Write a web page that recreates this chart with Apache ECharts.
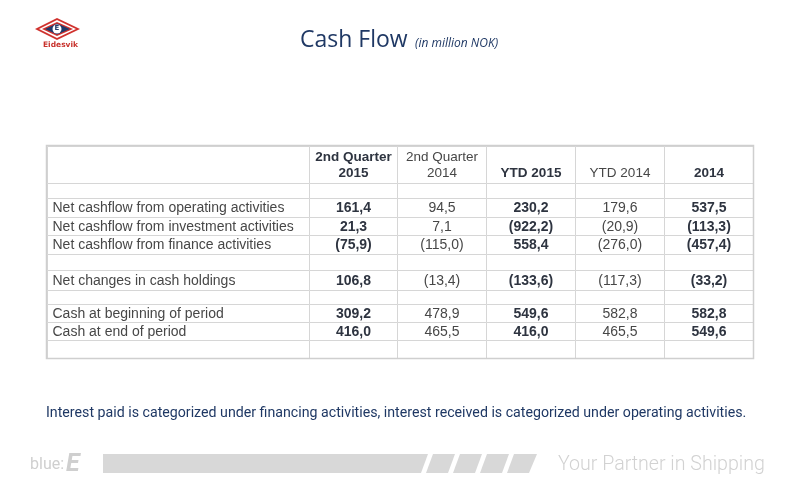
<!DOCTYPE html>
<html>
<head>
<meta charset="utf-8">
<script src="https://cdn.jsdelivr.net/npm/echarts@6/dist/echarts.min.js"></script>
<style>
  html, body { margin: 0; padding: 0; background: #fff; }
  #main { width: 800px; height: 500px; }
</style>
</head>
<body>
<div id="main"></div>
<script>
// table data (in million NOK), negatives shown in brackets
var rowLabels = [
    'Net cashflow from operating activities',
    'Net cashflow from investment activities',
    'Net cashflow from finance activities',
    'Net changes in cash holdings',
    'Cash at beginning of period',
    'Cash at end of period'
];
var colHeaders = [['2nd Quarter', '2015'], ['2nd Quarter', '2014'], ['YTD 2015'], ['YTD 2014'], ['2014']];
var boldCols = [true, false, true, false, true];
var q2_2015 = [161.4, 21.3, -75.9, 106.8, 309.2, 416.0];
var q2_2014 = [94.5, 7.1, -115.0, -13.4, 478.9, 465.5];
var ytd2015 = [230.2, -922.2, 558.4, -133.6, 549.6, 416.0];
var ytd2014 = [179.6, -20.9, -276.0, -117.3, 582.8, 465.5];
var fy2014 = [537.5, -113.3, -457.4, -33.2, 582.8, 549.6];
var columns = [q2_2015, q2_2014, ytd2015, ytd2014, fy2014];

// layout of the table grid (axis units = px on the slide)
var colEdges = [47, 309, 397, 486, 575, 664, 753];
var rowEdges = [146, 183, 198, 217, 235, 254, 270, 290, 304, 322, 340, 358];
var dataRowIndex = [2, 3, 4, 6, 8, 9]; // which table row each data line sits in

function fmt(v) {
    var s = Math.abs(v).toFixed(1).replace('.', ',');
    return v < 0 ? '(' + s + ')' : s;
}

// build one entry per cell
var cells = [];
for (var r = 0; r < rowEdges.length - 1; r++) {
    for (var c = 0; c < colEdges.length - 1; c++) {
        var txt = '', bold = false;
        if (r === 0 && c > 0) {
            txt = colHeaders[c - 1].join('\n');
            bold = boldCols[c - 1];
        } else {
            var k = dataRowIndex.indexOf(r);
            if (k >= 0) {
                if (c === 0) txt = rowLabels[k];
                else { txt = fmt(columns[c - 1][k]); bold = boldCols[c - 1]; }
            }
        }
        cells.push({ value: [c, r], txt: txt, bold: bold });
    }
}

var chart = echarts.init(document.getElementById('main'));

function renderCell(params, api) {
    var cell = cells[params.dataIndex];
    var c = cell.value[0], r = cell.value[1];
    var p0 = api.coord([colEdges[c], rowEdges[r]]);
    var p1 = api.coord([colEdges[c + 1], rowEdges[r + 1]]);
    var x0 = Math.round(p0[0]) + 0.5, y0 = Math.round(p0[1]) + 0.5;
    var x1 = Math.round(p1[0]) + 0.5, y1 = Math.round(p1[1]) + 0.5;
    var children = [{
        type: 'rect',
        shape: { x: x0, y: y0, width: x1 - x0, height: y1 - y0 },
        style: { fill: '#fff', stroke: '#d6d6d6', lineWidth: 1 }
    }];
    if (cell.txt) {
        var isLabel = c === 0;
        var isHead = r === 0;
        children.push({
            type: 'text',
            style: {
                text: cell.txt,
                x: isLabel ? x0 + 5 : (x0 + x1) / 2,
                y: isHead ? y1 - 2 : (y0 + y1) / 2 + 0.5,
                align: isLabel ? 'left' : 'center',
                verticalAlign: isHead ? 'bottom' : 'middle',
                fontFamily: 'Liberation Sans, Arial, sans-serif',
                fontSize: isHead ? 13.5 : 14,
                fontWeight: cell.bold ? 'bold' : 'normal',
                lineHeight: 16,
                fill: cell.bold ? '#2e3440' : '#474747'
            }
        });
    }
    return { type: 'group', children: children };
}

var option = {
    backgroundColor: '#fff',
    animation: false,
    grid: { left: 47, top: 146, width: 706, height: 212 },
    xAxis: { type: 'value', min: 47, max: 753, show: false },
    yAxis: { type: 'value', min: 146, max: 358, inverse: true, show: false },
    series: [{
        type: 'custom',
        renderItem: renderCell,
        data: cells,
        silent: true
    }],
    graphic: [
        // outer border of the table
        { type: 'rect', shape: { x: 46.5, y: 145.5, width: 707, height: 213 },
          style: { fill: 'none', stroke: '#cfcfcf', lineWidth: 1.5 }, z: 10 },
        // title
        { type: 'text', left: 300, top: 29,
          style: { text: 'Cash Flow', fontFamily: 'Open Sans', fontSize: 23, fill: '#1f3864' } },
        { type: 'text', left: 415, top: 38,
          style: { text: '(in million NOK)', fontFamily: 'Open Sans', fontStyle: 'italic', fontSize: 12, fill: '#1f3864' } },
        // logo
        { type: 'polygon', shape: { points: [[35, 29], [57, 18], [80, 29], [57, 40]] },
          style: { fill: '#d0312d' } },
        { type: 'polygon', shape: { points: [[39, 29], [57, 20], [76, 29], [57, 38]] },
          style: { fill: '#fff' } },
        { type: 'polygon', shape: { points: [[42, 29], [57, 22], [73, 29], [57, 36]] },
          style: { fill: '#d0312d' } },
        { type: 'polygon', shape: { points: [[45, 29], [57, 23.5], [70, 29], [57, 34.5]] },
          style: { fill: '#1f3a6b' } },
        { type: 'circle', shape: { cx: 57, cy: 29, r: 4.5 }, style: { fill: '#fff' } },
        { type: 'text', left: 54.5, top: 25,
          style: { text: 'E', fontFamily: 'DejaVu Sans', fontWeight: 'bold', fontSize: 7, fill: '#1f3a6b' } },
        { type: 'text', left: 43, top: 41,
          style: { text: 'Eidesvik', fontFamily: 'DejaVu Sans', fontWeight: 'bold', fontSize: 7.5, fill: '#c8322c' } },
        // footnote
        { type: 'text', left: 46, top: 406,
          style: { text: 'Interest paid is categorized under financing activities, interest received is categorized under operating activities.',
                   fontFamily: 'Roboto', fontSize: 14.2, fill: '#1f3864' } },
        // footer
        { type: 'text', left: 30, top: 457,
          style: { text: 'blue:', fontFamily: 'Roboto', fontSize: 16, fill: '#cfcfcf' } },
        { type: 'text', left: 66, top: 452,
          style: { text: 'E', fontFamily: 'Roboto', fontStyle: 'italic', fontWeight: 'bold', fontSize: 25, fill: '#cfcfcf' } },
        { type: 'polygon', shape: { points: [[103, 454], [428, 454], [421, 473], [103, 473]] },
          style: { fill: '#d8d8d8' } },
        { type: 'polygon', shape: { points: [[433, 454], [455, 454], [448, 473], [426, 473]] }, style: { fill: '#d8d8d8' } },
        { type: 'polygon', shape: { points: [[460, 454], [482, 454], [475, 473], [453, 473]] }, style: { fill: '#d8d8d8' } },
        { type: 'polygon', shape: { points: [[487, 454], [509, 454], [502, 473], [480, 473]] }, style: { fill: '#d8d8d8' } },
        { type: 'polygon', shape: { points: [[514, 454], [537, 454], [529, 473], [507, 473]] }, style: { fill: '#d8d8d8' } },
        { type: 'text', left: 558, top: 455,
          style: { text: 'Your Partner in Shipping', fontFamily: 'Roboto', fontWeight: 300, fontSize: 19.6, fill: '#d2d2d2' } }
    ]
};
chart.setOption(option);
</script>
</body>
</html>
